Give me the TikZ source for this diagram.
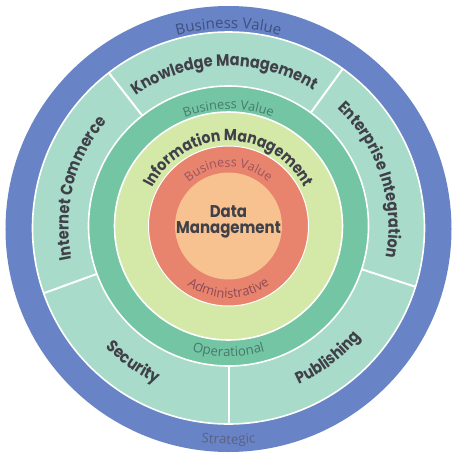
\documentclass[tikz,border=0pt]{standalone}
\usepackage{fontspec}
\usetikzlibrary{decorations.text}
\newfontfamily\segf{Poppins}[FakeStretch=0.88]
\newfontfamily\regf{Open Sans}
\definecolor{blueR}{HTML}{6884C6}
\definecolor{tealL}{HTML}{A9DBCA}
\definecolor{tealM}{HTML}{73C5A3}
\definecolor{greenL}{HTML}{D4E9A8}
\definecolor{redR}{HTML}{E8836D}
\definecolor{orangeC}{HTML}{F8C190}
\definecolor{segtext}{HTML}{404048}
\definecolor{outerbv}{HTML}{3F4F80}
\definecolor{strat}{HTML}{5C6183}
\definecolor{midbv}{HTML}{467C6C}
\definecolor{oper}{HTML}{467A6D}
\definecolor{innerbv}{HTML}{9A5560}
\definecolor{admin}{HTML}{8E4B56}
\newcommand\segstyle{\segf\bfseries\fontsize{16.5}{18}\selectfont\color{segtext}}
\newcommand\infstyle{\segf\bfseries\fontsize{16}{18}\selectfont\color{segtext}}
\newcommand\obvstyle{\regf\fontsize{15}{16}\selectfont\color{outerbv}}
\newcommand\stratstyle{\regf\fontsize{13.5}{16}\selectfont\color{strat}}
\newcommand\mbvstyle{\regf\fontsize{12.8}{16}\selectfont\color{midbv}}
\newcommand\operstyle{\regf\fontsize{13.3}{16}\selectfont\color{oper}}
\newcommand\ibvstyle{\regf\fontsize{12.5}{16}\selectfont\color{innerbv}}
\newcommand\admstyle{\regf\fontsize{13}{16}\selectfont\color{admin}}
\tikzset{
  arctext/.style={decorate, decoration={text along path, text align=center, text={#1}}},
  ringedge/.style={draw=white, line width=1.6pt},
  divider/.style={draw=white, line width=2pt}
}
\begin{document}
\begin{tikzpicture}[x=1pt,y=1pt]
\useasboundingbox[fill=white] (-228.5,-235) rectangle (233.5,226);
% rings
\fill[blueR] (0,-3) circle (223);
\fill[tealL] (0,-2) circle (196);
\begin{scope}
  \clip (0,-2) circle (196);
  \foreach \a in {54,128,200,270,342}
    \draw[divider] (\a:130) -- (\a:205);
\end{scope}
\draw[ringedge] (0,-2) circle (196);
\fill[tealM] (0,0) circle (140);
\draw[ringedge] (0,0) circle (140);
\fill[greenL] (0,0) circle (114);
\draw[ringedge] (0,0) circle (114);
\fill[redR] (0,0) circle (80);
\draw[ringedge, line width=1pt] (0,0) circle (80);
\fill[orangeC] (0,0) circle (53.5);
% outer ring texts
\path[arctext={|\obvstyle|Business Value}] (120:197.5) arc[start angle=120, end angle=60, radius=197.5];
\path[arctext={|\stratstyle|Strategic}] (240:218) arc[start angle=240, end angle=300, radius=218];
% segment texts
\path[arctext={|\segstyle|Knowledge Management}] (136.7:160) arc[start angle=136.7, end angle=46.7, radius=160];
\path[arctext={|\segstyle|Internet Commerce}] (205.7:160) arc[start angle=205.7, end angle=125.7, radius=160];
\path[arctext={|\segstyle|Enterprise Integration}] (58:160) arc[start angle=58, end angle=-22, radius=160];
\path[arctext={|\segstyle|Security}] (205:173) arc[start angle=205, end angle=265, radius=173];
\path[arctext={|\segstyle|Publishing}] (277:173) arc[start angle=277, end angle=337, radius=173];
% middle ring texts
\path[arctext={|\mbvstyle|Business Value}] (135:117) arc[start angle=135, end angle=45, radius=117];
\path[arctext={|\operstyle|Operational}] (225:130.5) arc[start angle=225, end angle=315, radius=130.5];
% information management
\path[arctext={|\infstyle|Information Management}] (160:85) arc[start angle=160, end angle=20, radius=85];
% red ring texts
\path[arctext={|\ibvstyle|Business Value}] (150:59) arc[start angle=150, end angle=30, radius=59];
\path[arctext={|\admstyle|Administrative}] (210:72) arc[start angle=210, end angle=330, radius=72];
% center
\node[font=\segf\bfseries\fontsize{17}{16}\selectfont, text=segtext, align=center] (dm) at (0,4) {Data\\Management};
\end{tikzpicture}
\end{document}
